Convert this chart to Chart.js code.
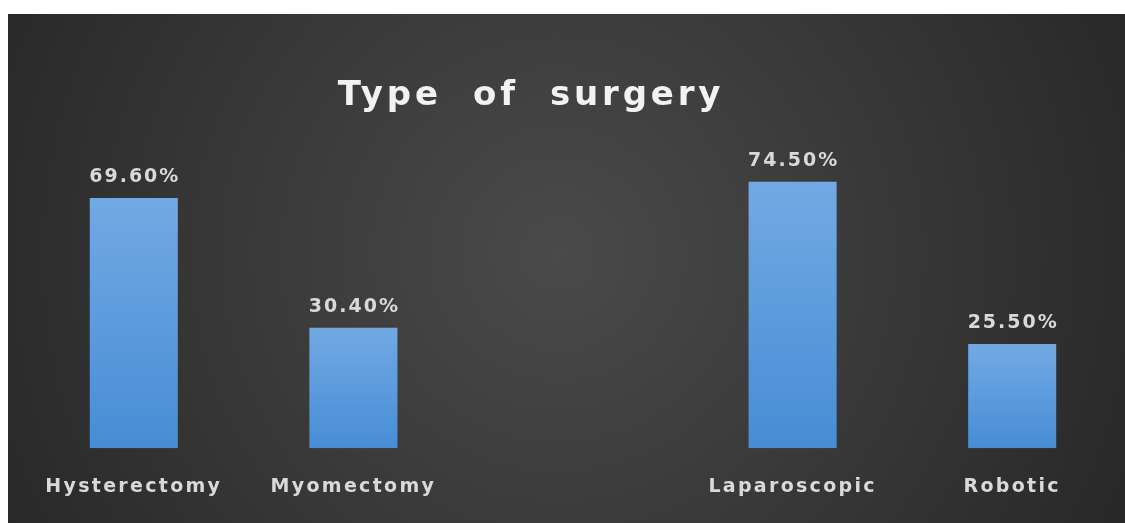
<!DOCTYPE html>
<html>
<head>
<meta charset="utf-8">
<script src="https://cdn.jsdelivr.net/npm/chart.js@4.4.1/dist/chart.umd.min.js"></script>
<style>
  html, body { margin: 0; padding: 0; background: #ffffff; width: 1125px; height: 523px; overflow: hidden; }
  #wrap { position: absolute; left: 8px; top: 14px; width: 1117px; height: 509px; }
  canvas { display: block; }
</style>
</head>
<body>
<div id="wrap"><canvas id="c" width="1117" height="509"></canvas></div>
<script>
const chartTitle = 'Type  of  surgery';
const categories = ['Hysterectomy', 'Myomectomy', '', 'Laparoscopic', 'Robotic'];
const values = [69.6, 30.4, null, 74.5, 25.5];
const valueLabels = ['69.60%', '30.40%', '', '74.50%', '25.50%'];
const yMin = -6;
const yMax = 85;

const bgPlugin = {
  id: 'bg',
  beforeDraw(chart) {
    const ctx = chart.ctx;
    const w = chart.width, h = chart.height;
    ctx.save();
    const g = ctx.createRadialGradient(550, 240, 0, 550, 240, 680);
    g.addColorStop(0, '#4a4a4a');
    g.addColorStop(1, '#252525');
    ctx.fillStyle = g;
    ctx.fillRect(0, 0, w, h);
    ctx.restore();
    ctx.letterSpacing = '2.3px';
  }
};

const labelPlugin = {
  id: 'valueLabels',
  afterDatasetsDraw(chart) {
    const ctx = chart.ctx;
    const meta = chart.getDatasetMeta(0);
    ctx.save();
    ctx.letterSpacing = '2px';
    ctx.font = 'bold 19px "DejaVu Sans"';
    ctx.fillStyle = '#d9d9d9';
    ctx.textAlign = 'center';
    ctx.textBaseline = 'alphabetic';
    meta.data.forEach((el, i) => {
      if (values[i] == null) return;
      ctx.fillText(valueLabels[i], el.x + 1, el.y - 16);
    });
    ctx.letterSpacing = '3.8px';
    ctx.font = 'bold 34px "DejaVu Sans"';
    ctx.fillStyle = '#f2f2f2';
    ctx.fillText(chartTitle, 523, 91);
    ctx.restore();
  }
};

new Chart(document.getElementById('c'), {
  type: 'bar',
  data: {
    labels: categories,
    datasets: [{
      data: values,
      base: yMin,
      backgroundColor: (c) => {
        const chart = c.chart;
        if (!chart.chartArea || c.dataIndex == null || values[c.dataIndex] == null) return '#5b9bd5';
        const ys = chart.scales.y;
        const top = ys.getPixelForValue(values[c.dataIndex]);
        const bot = ys.getPixelForValue(yMin);
        const g = chart.ctx.createLinearGradient(0, top, 0, bot);
        g.addColorStop(0, '#72a9e4');
        g.addColorStop(1, '#478dd5');
        return g;
      },
      borderWidth: 0,
      categoryPercentage: 1,
      barPercentage: 0.401
    }]
  },
  options: {
    responsive: false,
    animation: false,
    layout: { padding: { top: 133, left: 16, right: 3, bottom: 6 } },
    plugins: {
      legend: { display: false },
      title: { display: false },
      tooltip: { enabled: false }
    },
    scales: {
      x: {
        grid: { display: false },
        border: { display: false },
        ticks: {
          color: '#d9d9d9',
          font: { family: 'DejaVu Sans', size: 19, weight: 'bold' },
          padding: 19,
          maxRotation: 0,
          autoSkip: false
        }
      },
      y: {
        display: false,
        min: yMin,
        max: yMax
      }
    }
  },
  plugins: [bgPlugin, labelPlugin]
});
</script>
</body>
</html>
